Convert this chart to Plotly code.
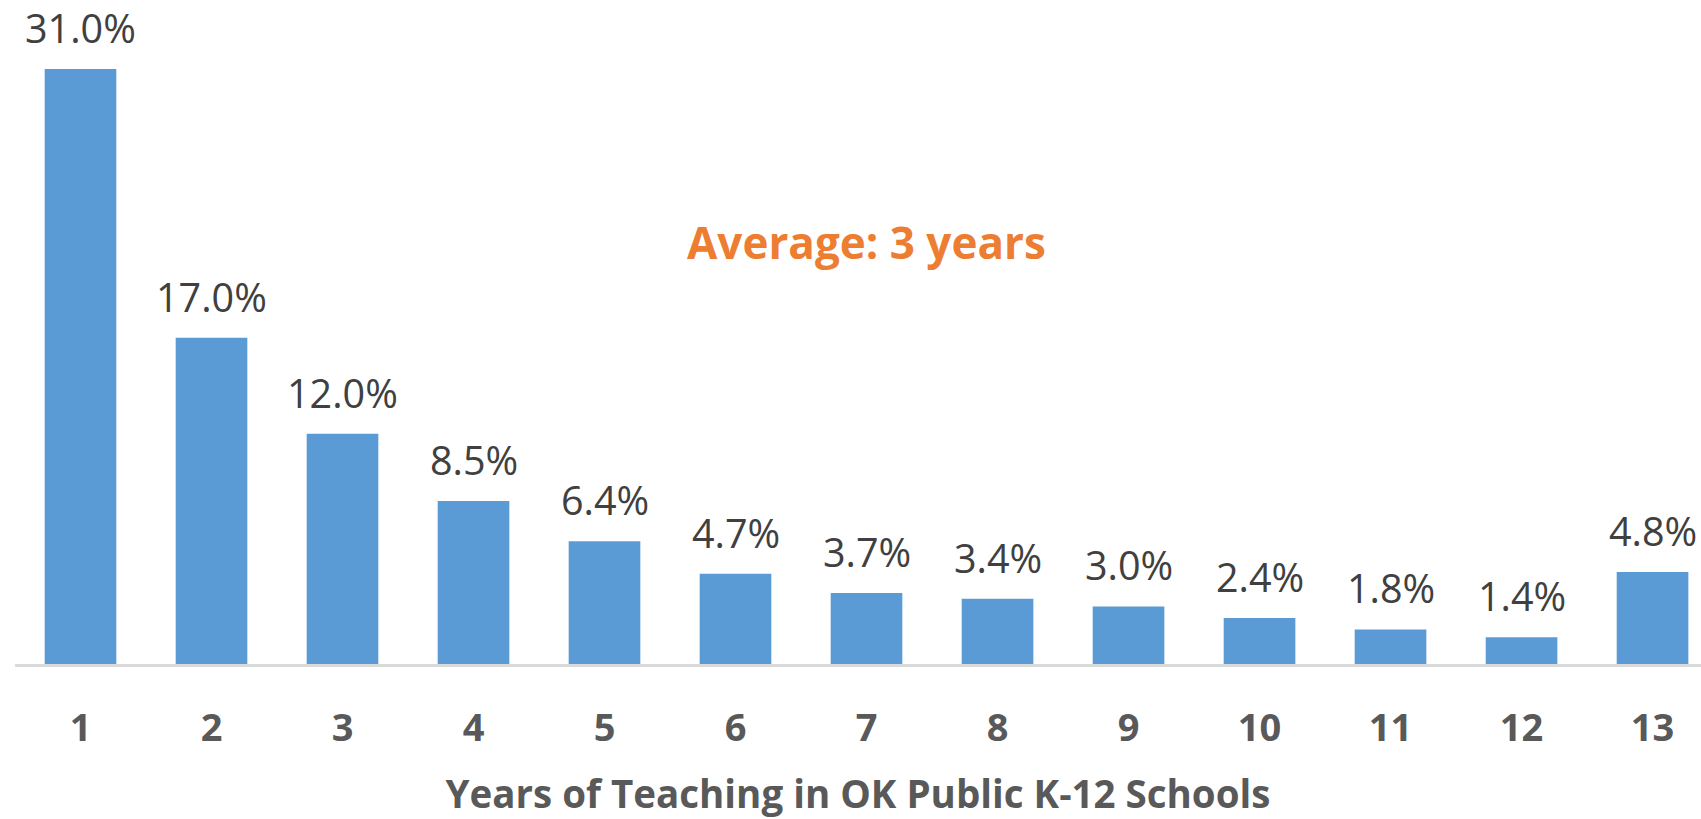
import plotly.graph_objects as go

years = [1, 2, 3, 4, 5, 6, 7, 8, 9, 10, 11, 12, 13]
share_pct = [31.0, 17.0, 12.0, 8.5, 6.4, 4.7, 3.7, 3.4, 3.0, 2.4, 1.8, 1.4, 4.8]
tick_labels = [str(y) for y in years]
x_title = "Years of Teaching in OK Public K-12 Schools"
note_text = "Average: 3 years"

BAR = "#5B9BD5"
FONT = "Open Sans"

fig = go.Figure()
fig.add_trace(go.Bar(
    x=years, y=share_pct, marker=dict(color=BAR, line=dict(width=0)),
    width=0.547, hoverinfo="skip",
))

for x, v in zip(years, share_pct):
    fig.add_annotation(
        x=x, y=v, xref="x", yref="y", text=f"{v:.1f}%", showarrow=False,
        yanchor="middle", yshift=41,
        font=dict(family=FONT, size=39.5, color="#404040"),
    )

fig.add_annotation(
    x=7.0, y=22.0, xref="x", yref="y", text=f"<b>{note_text}</b>", showarrow=False,
    font=dict(family=FONT, size=44, color="#ED7D31"),
)

fig.update_layout(
    width=1701, height=819,
    margin=dict(l=15, r=0, t=0, b=155),
    paper_bgcolor="white", plot_bgcolor="white",
    showlegend=False,
    xaxis=dict(
        range=[0.5, 13.37], tickmode="array", tickvals=years, ticktext=[f"<b>{t}</b>" for t in tick_labels],
        showgrid=False, zeroline=False,
        showline=True, linecolor="#D9D9D9", linewidth=3,
        ticks="outside", ticklen=28, tickcolor="rgba(0,0,0,0)",
        tickfont=dict(family=FONT, size=38, color="#595959"),
        title=dict(text=f"<b>{x_title}</b>", standoff=52,
                   font=dict(family=FONT, size=38.5, color="#595959")),
        automargin=False,
    ),
    yaxis=dict(range=[0, 34.6], visible=False, automargin=False),
)

fig.write_html("out.html", config={"displayModeBar": False},
               post_script="document.body.style.margin='0';document.body.style.overflow='hidden';")
